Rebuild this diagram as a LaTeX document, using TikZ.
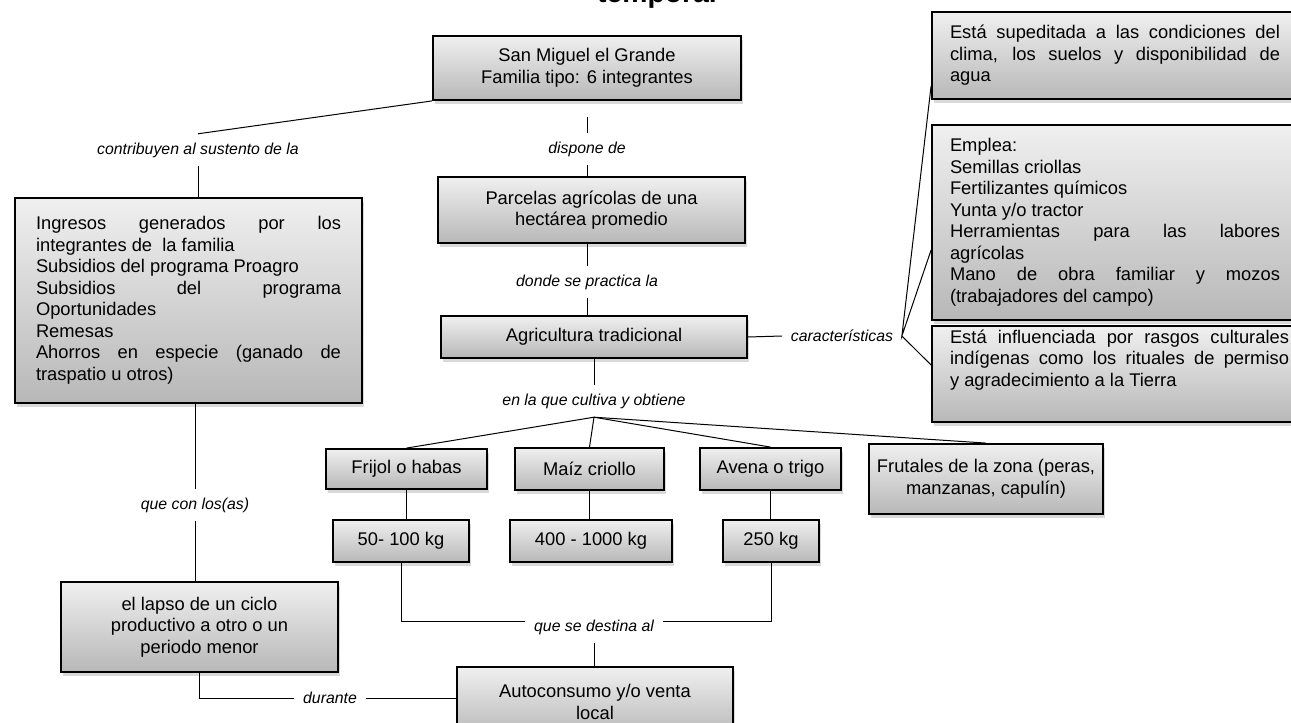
\documentclass[tikz,border=0pt]{standalone}
\usepackage{fontspec}
\setmainfont{Liberation Sans}
\usetikzlibrary{shadows}

\tikzset{
  caja/.style={draw, line width=1.1pt, top color=black!6, bottom color=black!28,
    drop shadow={shadow xshift=1.2pt, shadow yshift=-2.4pt, opacity=0.3},
    font=\fontsize{11}{12.9}\selectfont, align=center, inner sep=0pt},
  cajalarga/.style={caja, align=justify, inner xsep=10.8pt},
  enlace/.style={font=\fontsize{9.5}{11}\selectfont\itshape, inner sep=5pt},
}

\begin{document}
\begin{tikzpicture}[x=0.6pt, y=-0.6pt, line width=0.6pt]
\useasboundingbox (0,0) rectangle (1291,723);
\clip (0,0) rectangle (1291,723);
\node[anchor=base, font=\fontsize{17}{20}\selectfont\bfseries] (titulo) at (657,3) {temporal};

\node[caja, minimum width=184.8pt, minimum height=38.4pt] (sanmiguel) at (587,68) {San Miguel el Grande\\Familia tipo: 6 integrantes};
\node[caja, minimum width=184.2pt, minimum height=39.6pt] (parcelas) at (591.5,210) {Parcelas agrícolas de una\\hectárea promedio};
\node[caja, minimum width=183.6pt, minimum height=25.2pt] (agricultura) at (594,337) {Agricultura tradicional};
\node[cajalarga, text width=183pt, inner xsep=12.6pt, minimum height=123pt] (ingresos) at (188.5,300.5)
  {Ingresos generados por los\linebreak integrantes de\ \ la familia\\Subsidios del programa Proagro\\Subsidios del programa\linebreak Oportunidades\\Remesas\\Ahorros en especie (ganado de\linebreak traspatio u otros)};
\node[cajalarga, text width=198pt, minimum height=52.2pt] (clima) at (1115,55.5)
  {Está supeditada a las condiciones del\linebreak clima, los suelos y disponibilidad de\linebreak agua};
\node[cajalarga, text width=198pt, minimum height=117pt] (emplea) at (1115,222.5)
  {Emplea:\\Semillas criollas\\Fertilizantes químicos\\Yunta y/o tractor\\Herramientas para las labores\linebreak agrícolas\\Mano de obra familiar y mozos\linebreak (trabajadores del campo)};
\node[cajalarga, text width=203.4pt, minimum height=57.6pt] (influenciada) at (1119.5,374)
  {Está influenciada por rasgos culturales\linebreak indígenas como los rituales de permiso\linebreak y agradecimiento a la Tierra\\[6.3pt]\mbox{}};
\node[caja, minimum width=96.6pt, minimum height=24pt] (frijol) at (406.5,469) {Frijol o habas};
\node[caja, minimum width=89.4pt, minimum height=25.2pt] (maiz) at (589.5,469) {Maíz criollo};
\node[caja, minimum width=84.6pt, minimum height=25.2pt] (avena) at (770.5,469) {Avena o trigo};
\node[caja, minimum width=140.4pt, minimum height=42pt] (frutales) at (986,479) {Frutales de la zona (peras,\\manzanas, capulín)};
\node[caja, minimum width=81.6pt, minimum height=25.2pt] (kgfrijol) at (401,541) {50- 100 kg};
\node[caja, minimum width=97.2pt, minimum height=25.2pt] (kgmaiz) at (591,541) {400 - 1000 kg};
\node[caja, minimum width=57.6pt, minimum height=25.2pt] (kgavena) at (771,541) {250 kg};
\node[caja, minimum width=166.2pt, minimum height=54pt] (lapso) at (199.5,627) {el lapso de un ciclo\\productivo a otro o un\\periodo menor};
\node[caja, minimum width=165.6pt, minimum height=42pt] (autoconsumo) at (595,702) {Autoconsumo y/o venta\\local};

\node[enlace] (lcontrib) at (198,150) {contribuyen al sustento de la};
\node[enlace] (ldispone) at (587,149) {dispone de};
\node[enlace] (ldonde) at (587,282) {donde se practica la};
\node[enlace] (lcultiva) at (594,401) {en la que cultiva y obtiene};
\node[enlace] (lcaract) at (842,336) {características};
\node[enlace] (lconlos) at (195,505) {que con los(as)};
\node[enlace] (ldestina) at (594,627) {que se destina al};
\node[enlace] (ldurante) at (330,698) {durante};
\coordinate (dtop) at (587,117);

\draw (sanmiguel.south west) -- (lcontrib.north);
\draw (lcontrib.south) -- (lcontrib.south |- ingresos.north);
\draw (dtop) -- (ldispone.north);
\draw (ldispone.south) -- (ldispone.south |- parcelas.north);
\draw (ldonde.north |- parcelas.south) -- (ldonde.north);
\draw (ldonde.south) -- (ldonde.south |- agricultura.north);
\draw (agricultura.south) -- (lcultiva.north);
\foreach \c in {frijol,maiz,avena,frutales}
  \draw (lcultiva.south) -- (\c.north);
\draw (agricultura.east) -- (lcaract.west);
\draw ([yshift=8.4pt]clima.south west) -- (lcaract.east) -- ([yshift=-16.5pt]emplea.west);
\draw (lcaract.east) -- ([yshift=5.4pt]influenciada.west);
\draw (frijol.south) -- (frijol.south |- kgfrijol.north);
\draw (maiz.south) -- (maiz.south |- kgmaiz.north);
\draw (avena.south) -- (avena.south |- kgavena.north);
\draw (kgfrijol.south) |- ([yshift=3.6pt]ldestina.west);
\draw (kgavena.south) |- ([yshift=3.6pt]ldestina.east);
\draw (ldestina.south) -- (ldestina.south |- autoconsumo.north);
\draw (lconlos.north |- ingresos.south) -- (lconlos.north);
\draw (lconlos.south) -- (lconlos.south |- lapso.north);
\draw (lapso.south) |- (ldurante.west);
\draw (ldurante.east) -- (ldurante.east -| autoconsumo.west);
\end{tikzpicture}
\end{document}
